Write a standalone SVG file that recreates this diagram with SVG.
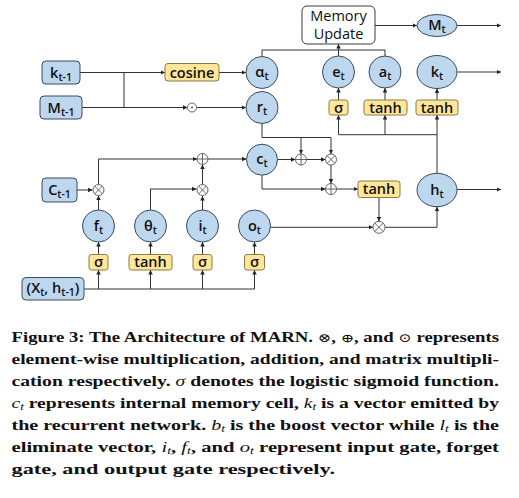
<svg xmlns="http://www.w3.org/2000/svg" width="519" height="498" viewBox="0 0 519 498">
<style>
.b{fill:#bdd7ee;stroke:#3a4a5c;stroke-width:1}
.y{fill:#ffe699;stroke:#8a7a45;stroke-width:1}
.w{fill:#fff;stroke:#3a3a3a;stroke-width:1}
.op{fill:#fff;stroke:#555;stroke-width:0.9}
.ol{stroke:#555;stroke-width:0.9;fill:none}
.l{font-family:"Open Sans","Liberation Sans",sans-serif;font-size:14.5px;fill:#111;text-anchor:middle;font-weight:600}
.s{font-size:10.5px}
.c path{fill:none;stroke:#333;stroke-width:1}
.cap{font-family:"Liberation Serif","Times New Roman",serif;font-size:14px;font-weight:bold;fill:#111}
.m{font-family:"DejaVu Serif",serif;font-weight:normal;font-size:12px}
.i{font-style:italic;font-weight:normal}
.sb{font-size:9.5px;font-style:italic;font-weight:normal}
</style>
<defs>
<marker id="a" viewBox="0 0 6 6" refX="6" refY="3" markerWidth="4.5" markerHeight="4.5" orient="auto" markerUnits="userSpaceOnUse"><path d="M0,0 L6,3 L0,6 z" fill="#222"/></marker>
</defs>
<g class="c" id="connectors">
<path d="M80,72.5 H165" marker-end="url(#a)"/>
<path d="M82,107.5 H187.5" marker-end="url(#a)"/>
<path d="M124,72.5 V107.5"/>
<path d="M219,72.5 H246" marker-end="url(#a)"/>
<path d="M196.5,107.5 H246" marker-end="url(#a)"/>
<path d="M262,56.5 V50 H385 V56"/>
<path d="M338.5,56 V44" marker-end="url(#a)"/>
<path d="M375,25.5 H417" marker-end="url(#a)"/>
<path d="M457,25.5 H501" marker-end="url(#a)"/>
<path d="M457,72 H501" marker-end="url(#a)"/>
<path d="M338.5,100 V88" marker-end="url(#a)"/>
<path d="M385,100 V88" marker-end="url(#a)"/>
<path d="M437,100 V88.5" marker-end="url(#a)"/>
<path d="M437,173.3 V115" marker-end="url(#a)"/>
<path d="M437,134.7 H338.5 V115" marker-end="url(#a)"/>
<path d="M385,134.7 V115" marker-end="url(#a)"/>
<path d="M262,123.5 V137.5 H331 V154" marker-end="url(#a)"/>
<path d="M301,137.5 V154" marker-end="url(#a)"/>
<path d="M277.5,159.5 H295.5" marker-end="url(#a)"/>
<path d="M306.5,159.5 H325.5" marker-end="url(#a)"/>
<path d="M331,165 V183.5" marker-end="url(#a)"/>
<path d="M262,175.2 V189 H325.5" marker-end="url(#a)"/>
<path d="M336.5,189 H358" marker-end="url(#a)"/>
<path d="M379,197.5 V221.3" marker-end="url(#a)"/>
<path d="M270.5,227.3 H373" marker-end="url(#a)"/>
<path d="M385,227.3 H437 V206.7" marker-end="url(#a)"/>
<path d="M457,189.5 H501" marker-end="url(#a)"/>
<path d="M98.5,184.5 V159 H197" marker-end="url(#a)"/>
<path d="M208,159 H246.5" marker-end="url(#a)"/>
<path d="M202.5,184.5 V164.5" marker-end="url(#a)"/>
<path d="M150.5,210 V189 H196.5" marker-end="url(#a)"/>
<path d="M77,190 H92.5" marker-end="url(#a)"/>
<path d="M98.5,210 V195.5" marker-end="url(#a)"/>
<path d="M202.5,210 V196" marker-end="url(#a)"/>
<path d="M98.5,254.5 V242" marker-end="url(#a)"/>
<path d="M150.5,254.5 V242" marker-end="url(#a)"/>
<path d="M202.5,254.5 V242" marker-end="url(#a)"/>
<path d="M254.5,254.5 V242" marker-end="url(#a)"/>
<path d="M84,289 H254.5 V270" marker-end="url(#a)"/>
<path d="M98.5,289 V270" marker-end="url(#a)"/>
<path d="M150.5,289 V270" marker-end="url(#a)"/>
<path d="M202.5,289 V270" marker-end="url(#a)"/>
</g>
<g id="k_prev"><rect class="b" x="42" y="61" width="38" height="23" rx="4"/><text class="l" x="61" y="77.5">k<tspan class="s" dy="3">t-1</tspan></text></g>
<g id="M_prev"><rect class="b" x="40" y="96" width="42" height="23" rx="4"/><text class="l" x="61" y="112.5">M<tspan class="s" dy="3">t-1</tspan></text></g>
<g id="cosine"><rect class="y" x="165" y="63.5" width="54" height="17.5" rx="3"/><text class="l" x="192" y="77.5">cosine</text></g>
<g id="odot"><circle class="op" cx="192" cy="107.5" r="4.5"/><circle cx="192" cy="107.5" r="0.9" fill="#444"/></g>
<g id="alpha_t"><circle class="b" cx="262" cy="72.5" r="16"/><text class="l" x="262" y="77">α<tspan class="s" dy="3">t</tspan></text></g>
<g id="r_t"><circle class="b" cx="262" cy="107.5" r="16"/><text class="l" x="262" y="112">r<tspan class="s" dy="3">t</tspan></text></g>
<g id="memory_update"><rect class="w" x="302" y="6" width="73" height="38" rx="5"/><text class="l" x="338.5" y="20.5" style="font-weight:500">Memory</text><text class="l" x="338.5" y="38.5" style="font-weight:500">Update</text></g>
<g id="M_t"><ellipse class="b" cx="437" cy="25.5" rx="20" ry="11"/><text class="l" x="437" y="30">M<tspan class="s" dy="3">t</tspan></text></g>
<g id="e_t"><circle class="b" cx="338.5" cy="72" r="16"/><text class="l" x="338.5" y="76.5">e<tspan class="s" dy="3">t</tspan></text></g>
<g id="a_t"><circle class="b" cx="385" cy="72" r="16"/><text class="l" x="385" y="76.5">a<tspan class="s" dy="3">t</tspan></text></g>
<g id="k_t"><ellipse class="b" cx="437" cy="72" rx="20" ry="16.5"/><text class="l" x="437" y="76.5">k<tspan class="s" dy="3">t</tspan></text></g>
<g id="sigma_e"><rect class="y" x="329" y="100" width="19" height="15" rx="2.5"/><text class="l" x="338.5" y="112.5">σ</text></g>
<g id="tanh_a"><rect class="y" x="364" y="100" width="43" height="15" rx="2.5"/><text class="l" x="385.5" y="112.5">tanh</text></g>
<g id="tanh_k"><rect class="y" x="416" y="100" width="42" height="15" rx="2.5"/><text class="l" x="437" y="112.5">tanh</text></g>
<g id="c_t"><circle class="b" cx="262" cy="159.7" r="15.5"/><text class="l" x="262" y="164">c<tspan class="s" dy="3">t</tspan></text></g>
<g id="plus1"><circle class="op" cx="301" cy="159.5" r="5.5"/><path class="ol" d="M295.5,159.5 H306.5 M301,154 V165"/></g>
<g id="times1"><circle class="op" cx="331" cy="159.5" r="5.5"/><path class="ol" d="M327.1,155.6 L334.9,163.4 M334.9,155.6 L327.1,163.4"/></g>
<g id="plus2"><circle class="op" cx="331" cy="189" r="5.5"/><path class="ol" d="M325.5,189 H336.5 M331,183.5 V194.5"/></g>
<g id="tanh_c"><rect class="y" x="358" y="181" width="42" height="16.5" rx="2.5"/><text class="l" x="379" y="194">tanh</text></g>
<g id="times_o"><circle class="op" cx="379" cy="227.3" r="6"/><path class="ol" d="M374.8,223.1 L383.2,231.5 M383.2,223.1 L374.8,231.5"/></g>
<g id="h_t"><ellipse class="b" cx="437" cy="190" rx="20" ry="16.7"/><text class="l" x="437" y="194.5">h<tspan class="s" dy="3">t</tspan></text></g>
<g id="plus_c"><circle class="op" cx="202.5" cy="159" r="5.5"/><path class="ol" d="M197,159 H208 M202.5,153.5 V164.5"/></g>
<g id="times_f"><circle class="op" cx="98.5" cy="190" r="5.5"/><path class="ol" d="M94.6,186.1 L102.4,193.9 M102.4,186.1 L94.6,193.9"/></g>
<g id="times_i"><circle class="op" cx="202.5" cy="190" r="5.5"/><path class="ol" d="M198.6,186.1 L206.4,193.9 M206.4,186.1 L198.6,193.9"/></g>
<g id="C_prev"><rect class="b" x="42" y="178" width="35" height="24" rx="4"/><text class="l" x="59.5" y="194.5">C<tspan class="s" dy="3">t-1</tspan></text></g>
<g id="f_t"><circle class="b" cx="98.5" cy="226" r="16"/><text class="l" x="98.5" y="230.5">f<tspan class="s" dy="3">t</tspan></text></g>
<g id="theta_t"><circle class="b" cx="150.5" cy="226" r="16"/><text class="l" x="150.5" y="230.5">θ<tspan class="s" dy="3">t</tspan></text></g>
<g id="i_t"><circle class="b" cx="202.5" cy="226" r="16"/><text class="l" x="202.5" y="230.5">i<tspan class="s" dy="3">t</tspan></text></g>
<g id="o_t"><circle class="b" cx="254.5" cy="226" r="16"/><text class="l" x="254.5" y="230.5">o<tspan class="s" dy="3">t</tspan></text></g>
<g id="sigma_f"><rect class="y" x="89" y="254.5" width="19" height="15.5" rx="2.5"/><text class="l" x="98.5" y="267">σ</text></g>
<g id="tanh_theta"><rect class="y" x="129" y="254.5" width="43" height="15.5" rx="2.5"/><text class="l" x="150.5" y="267">tanh</text></g>
<g id="sigma_i"><rect class="y" x="193" y="254.5" width="19" height="15.5" rx="2.5"/><text class="l" x="202.5" y="267">σ</text></g>
<g id="sigma_o"><rect class="y" x="244.5" y="254.5" width="20" height="15.5" rx="2.5"/><text class="l" x="254.5" y="267">σ</text></g>
<g id="input"><rect class="b" x="22" y="277.5" width="62" height="22.5" rx="4"/><text class="l" x="53" y="293">(X<tspan class="s" dy="3">t</tspan><tspan dy="-3">, h</tspan><tspan class="s" dy="3">t-1</tspan><tspan dy="-3">)</tspan></text></g>
<g id="caption">
<text class="cap" x="11.5" y="342" textLength="487.5" lengthAdjust="spacingAndGlyphs">Figure 3: The Architecture of MARN. <tspan class="m">⊗</tspan>, <tspan class="m">⊕</tspan>, and <tspan class="m">⊙</tspan> represents</text>
<text class="cap" x="11.5" y="364" textLength="487.5" lengthAdjust="spacingAndGlyphs">element-wise multiplication, addition, and matrix multipli-</text>
<text class="cap" x="11.5" y="386" textLength="487.5" lengthAdjust="spacingAndGlyphs">cation respectively. <tspan class="i">σ</tspan> denotes the logistic sigmoid function.</text>
<text class="cap" x="11.5" y="408" textLength="487.5" lengthAdjust="spacingAndGlyphs"><tspan class="i">c</tspan><tspan class="sb" dy="2">t</tspan><tspan dy="-2"> represents internal memory cell, </tspan><tspan class="i">k</tspan><tspan class="sb" dy="2">t</tspan><tspan dy="-2"> is a vector emitted by</tspan></text>
<text class="cap" x="11.5" y="430" textLength="487.5" lengthAdjust="spacingAndGlyphs">the recurrent network. <tspan class="i">b</tspan><tspan class="sb" dy="2">t</tspan><tspan dy="-2"> is the boost vector while </tspan><tspan class="i">l</tspan><tspan class="sb" dy="2">t</tspan><tspan dy="-2"> is the</tspan></text>
<text class="cap" x="11.5" y="452" textLength="487.5" lengthAdjust="spacingAndGlyphs">eliminate vector, <tspan class="i">i</tspan><tspan class="sb" dy="2">t</tspan><tspan dy="-2">, </tspan><tspan class="i">f</tspan><tspan class="sb" dy="2">t</tspan><tspan dy="-2">, and </tspan><tspan class="i">o</tspan><tspan class="sb" dy="2">t</tspan><tspan dy="-2"> represent input gate, forget</tspan></text>
<text class="cap" x="11.5" y="474" textLength="323.5" lengthAdjust="spacingAndGlyphs">gate, and output gate respectively.</text>
</g>
</svg>
